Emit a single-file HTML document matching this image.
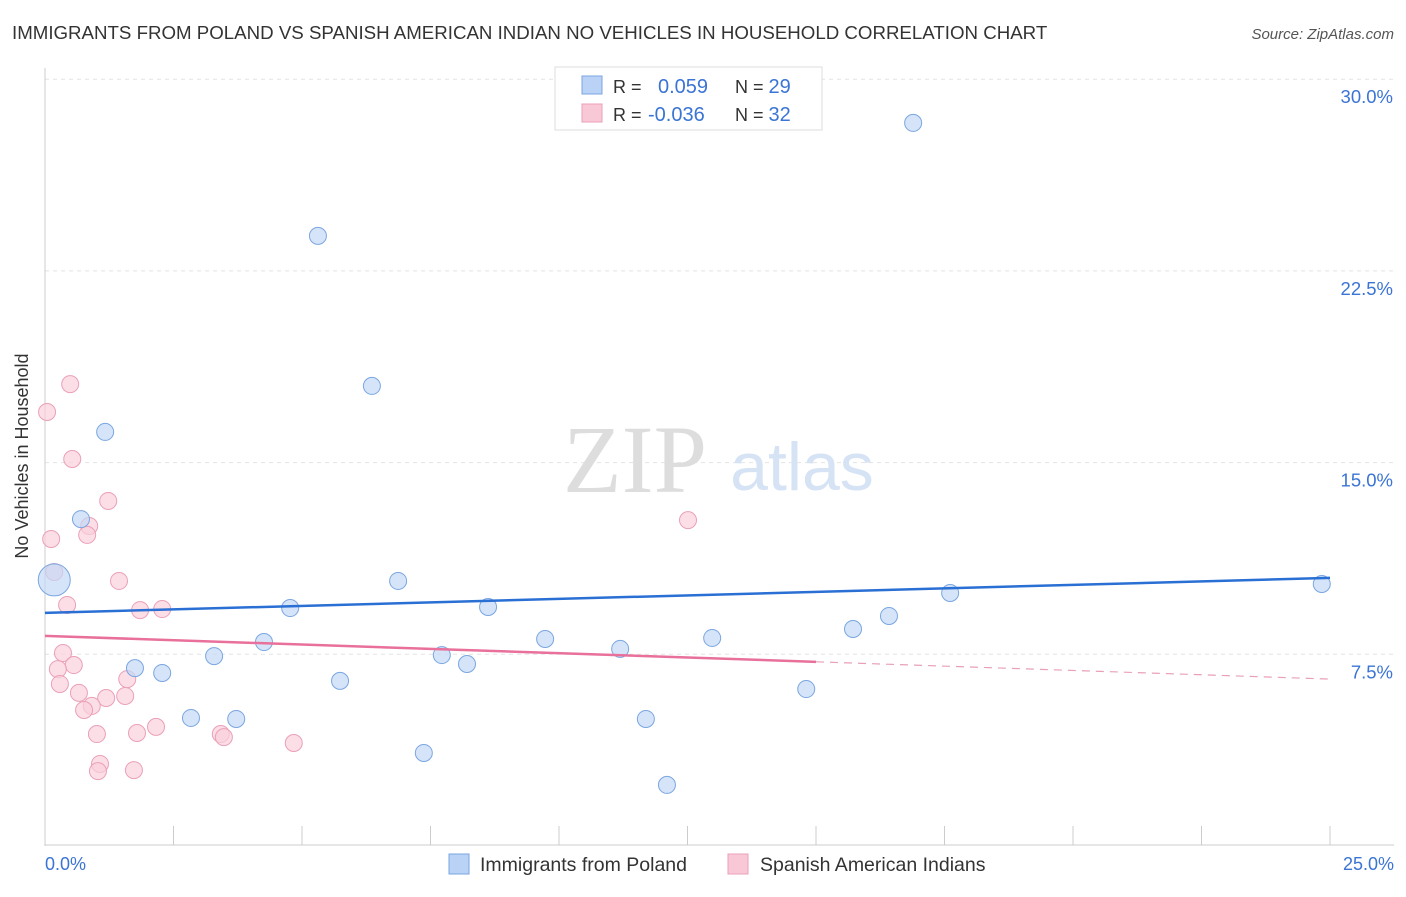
<!DOCTYPE html>
<html><head><meta charset="utf-8"><style>
body{margin:0;background:#fff;font-family:"Liberation Sans",sans-serif}
</style></head><body>
<svg width="1406" height="892" xmlns="http://www.w3.org/2000/svg">
<text x="12" y="39" font-size="18.7" fill="#333">IMMIGRANTS FROM POLAND VS SPANISH AMERICAN INDIAN NO VEHICLES IN HOUSEHOLD CORRELATION CHART</text>
<text x="1394" y="39" font-size="15" fill="#555" font-style="italic" text-anchor="end">Source: ZipAtlas.com</text>
<g id="grid"></g>
<text x="635" y="492" font-size="96" fill="#ddd" font-family="Liberation Serif" text-anchor="middle">ZIP</text>
<text x="802" y="490" font-size="68" fill="#d6e3f5" text-anchor="middle">atlas</text>
<g id="marks"></g>
<text x="28" y="456" font-size="18" fill="#333" text-anchor="middle" transform="rotate(-90 28 456)">No Vehicles in Household</text>
<text x="45" y="870" font-size="18" fill="#3a74d4">0.0%</text>
<text x="1394" y="870" font-size="18" fill="#3a74d4" text-anchor="end">25.0%</text>
<g>
<rect x="555" y="67" width="267" height="63" fill="#fff" stroke="#ddd"/>
<rect x="582" y="76" width="20" height="18" fill="#b9d2f5" stroke="#7aa6e0"/>
<rect x="582" y="104" width="20" height="18" fill="#f9c8d6" stroke="#eba0b8"/>
<text x="613" y="93" font-size="18" fill="#333">R = <tspan fill="#3a74d4" x="658" font-size="20">0.059</tspan><tspan x="735" fill="#333">N = </tspan><tspan fill="#3a74d4" font-size="20">29</tspan></text>
<text x="613" y="121" font-size="18" fill="#333">R = <tspan fill="#3a74d4" x="648" font-size="20">-0.036</tspan><tspan x="735" fill="#333">N = </tspan><tspan fill="#3a74d4" font-size="20">32</tspan></text>
</g>
<g>
<rect x="449" y="854" width="20" height="20" fill="#b9d2f5" stroke="#7aa6e0"/>
<text x="480" y="871" font-size="19.5" fill="#333">Immigrants from Poland</text>
<rect x="728" y="854" width="20" height="20" fill="#f9c8d6" stroke="#eba0b8"/>
<text x="760" y="871" font-size="19.5" fill="#333">Spanish American Indians</text>
</g>
</svg>
<script>
const blueX=[16.89,5.31,6.36,1.17,0.70,0.18,6.87,4.77,8.62,17.61,24.84,16.42,15.72,12.98,9.73,4.26,11.19,3.29,7.72,8.21,1.75,2.28,5.74,14.81,2.84,3.72,11.69,7.37,12.1];
const blueY=[28.29,23.87,18.0,16.2,12.79,10.41,10.37,9.31,9.35,9.9,10.25,9.0,8.49,8.14,8.1,7.98,7.71,7.43,7.47,7.12,6.96,6.77,6.46,6.14,5.01,4.97,4.97,3.64,2.39];
const pinkX=[0.49,0.04,0.53,1.23,0.86,0.82,0.12,12.51,0.18,1.44,0.43,1.85,2.28,0.35,0.56,0.25,1.6,0.29,0.66,1.19,1.56,0.91,0.76,2.16,1.79,1.01,3.42,3.48,4.84,1.07,1.03,1.73];
const pinkY=[18.07,16.98,15.14,13.5,12.52,12.17,12.01,12.75,10.72,10.37,9.43,9.23,9.27,7.55,7.08,6.92,6.53,6.34,5.99,5.79,5.87,5.48,5.32,4.66,4.42,4.38,4.38,4.26,4.03,3.21,2.93,2.97];
const yTicks=[7.5,15,22.5,30];
const yTickLabels=["7.5%","15.0%","22.5%","30.0%"];
const blueTrend=[9.12,10.49];
const pinkTrend=[8.22,6.53];
const pinkSolidEnd=15;
const NS="http://www.w3.org/2000/svg";
const sx=v=>45+v/25*1285, sy=v=>846-v/7.5*191.7;
function mk(t,a,p){const e=document.createElementNS(NS,t);for(const k in a)e.setAttribute(k,a[k]);p.appendChild(e);return e;}
const g=document.getElementById('grid'),m=document.getElementById('marks');
yTicks.forEach((t,i)=>{
 const l=mk('line',{x1:45,x2:1394,y1:sy(t),y2:sy(t),stroke:'#e4e4e4','stroke-dasharray':'4,4'},g);
 
 
 const tx=mk('text',{x:1393,y:sy(t)+24,'font-size':18.5,fill:'#3a74d4','text-anchor':'end'},g);
 tx.textContent=yTickLabels[i];
 
 
});
mk('line',{x1:45,x2:45,y1:68,y2:846,stroke:'#ccc'},g);
mk('line',{x1:45,x2:1394,y1:845,y2:845,stroke:'#ccc'},g);
for(let i=1;i<=10;i++){const x=sx(i*2.5);mk('line',{x1:x,x2:x,y1:826,y2:845,stroke:'#ccc'},g);}
pinkX.forEach((x,i)=>{
 const c=mk('circle',{cx:sx(x),cy:sy(pinkY[i]),r:8.5,fill:'#f9d0dc','fill-opacity':0.7,stroke:'#eba0b8'},m);
 
 
});
blueX.forEach((x,i)=>{
 const c=mk('circle',{cx:sx(x),cy:sy(blueY[i]),r:i==5?16:8.5,fill:'#c3d8f5','fill-opacity':0.7,stroke:'#7aa6e0'},m);
 
 
});
const bt=mk('line',{x1:sx(0),x2:sx(25),y1:sy(blueTrend[0]),y2:sy(blueTrend[1]),stroke:'#2a6fd4','stroke-width':2.5},m);


const pm=pinkTrend[0]+(pinkTrend[1]-pinkTrend[0])*pinkSolidEnd/25;
const pt=mk('line',{x1:sx(0),x2:sx(pinkSolidEnd),y1:sy(pinkTrend[0]),y2:sy(pm),stroke:'#e8709a','stroke-width':2.5},m);


const pd=mk('line',{x1:sx(pinkSolidEnd),x2:sx(25),y1:sy(pm),y2:sy(pinkTrend[1]),stroke:'#e8a0b8','stroke-width':1.2,'stroke-dasharray':'8,6'},m);


</script>
</body></html>
